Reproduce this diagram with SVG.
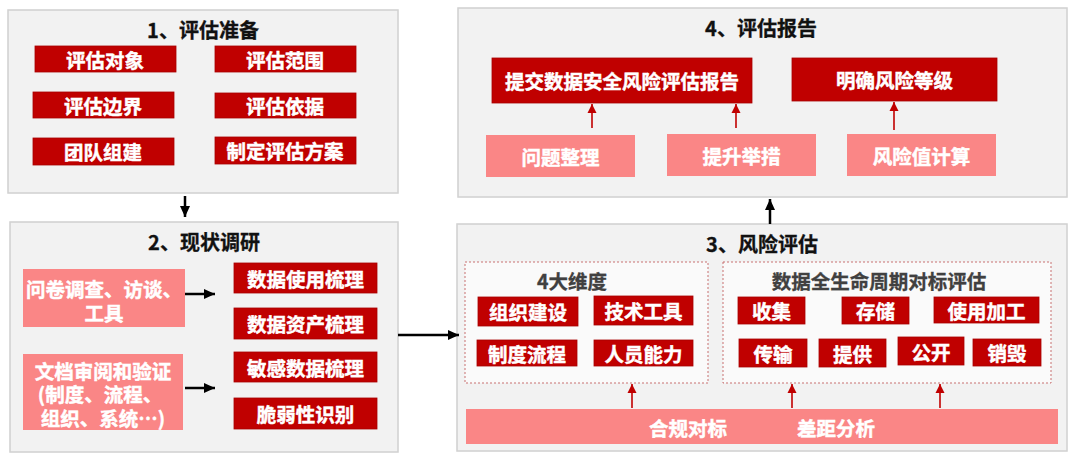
<svg xmlns="http://www.w3.org/2000/svg" width="1080" height="462" viewBox="0 0 1080 462">
<style>
text{font-family:"Noto Sans CJK SC","Liberation Sans",sans-serif;font-weight:bold;text-anchor:middle;dominant-baseline:central}
.panel{fill:#f2f2f2;stroke:#d0d0d0;stroke-width:1.5}
.title{font-size:20px;fill:#111;stroke:#111;stroke-width:0.3}
.sub{font-size:19.5px;fill:#404040;stroke:#404040;stroke-width:0.3}
.dark{fill:#c00000;stroke:#a80000;stroke-width:0.8}
.pink{fill:#fa8686}
.lbl{font-size:19.5px;fill:#fff;stroke:#fff;stroke-width:0.45}
.dash{fill:#fafafa;stroke:#c87070;stroke-width:1;stroke-dasharray:2 2}
.blk{stroke:#000;stroke-width:2.5;fill:none}
.red{stroke:#c00000;stroke-width:1.6;fill:none}
</style>
<defs>
<marker id="ab" markerUnits="userSpaceOnUse" markerWidth="12" markerHeight="12" viewBox="0 0 12 12" refX="11" refY="6" orient="auto"><path d="M0,1 L11,6 L0,11 Z" fill="#000"/></marker>
<marker id="ar" markerUnits="userSpaceOnUse" markerWidth="10" markerHeight="10" viewBox="0 0 10 10" refX="9" refY="5" orient="auto"><path d="M0,0.5 L9,5 L0,9.5 Z" fill="#c00000"/></marker>
</defs>

<g id="panel1">
<rect class="panel" x="8" y="10" width="390" height="183"/>
<text class="title" x="203" y="29">1、评估准备</text>
<g id="p1-n1"><rect class="dark" x="35" y="46" width="141" height="26"/><text class="lbl" x="105" y="59">评估对象</text></g>
<g id="p1-n2"><rect class="dark" x="215" y="46" width="141" height="26"/><text class="lbl" x="285" y="59">评估范围</text></g>
<g id="p1-n3"><rect class="dark" x="33" y="92" width="141" height="26"/><text class="lbl" x="103" y="105">评估边界</text></g>
<g id="p1-n4"><rect class="dark" x="215" y="93" width="141" height="25"/><text class="lbl" x="285" y="105.5">评估依据</text></g>
<g id="p1-n5"><rect class="dark" x="33" y="138" width="141" height="27"/><text class="lbl" x="103" y="151.5">团队组建</text></g>
<g id="p1-n6"><rect class="dark" x="215" y="137" width="141" height="27"/><text class="lbl" x="285" y="150.5">制定评估方案</text></g>
</g>

<g id="panel2">
<rect class="panel" x="10" y="222" width="388" height="230"/>
<text class="title" x="204" y="241">2、现状调研</text>
<g id="p2-src1"><rect class="pink" x="23" y="269" width="162" height="58"/><text class="lbl"><tspan x="104" y="288">问卷调查、访谈、</tspan><tspan x="104" y="312">工具</tspan></text></g>
<g id="p2-src2"><rect class="pink" x="23" y="354" width="160" height="76"/><text class="lbl"><tspan x="103" y="370">文档审阅和验证</tspan><tspan x="100" y="393">(制度、流程、</tspan><tspan x="103" y="417">组织、系统…)</tspan></text></g>
<g id="p2-n1"><rect class="dark" x="234" y="263" width="143" height="30"/><text class="lbl" x="305.5" y="278">数据使用梳理</text></g>
<g id="p2-n2"><rect class="dark" x="234" y="308" width="143" height="31"/><text class="lbl" x="305.5" y="323.5">数据资产梳理</text></g>
<g id="p2-n3"><rect class="dark" x="234" y="352" width="143" height="30"/><text class="lbl" x="305.5" y="367">敏感数据梳理</text></g>
<g id="p2-n4"><rect class="dark" x="234" y="398" width="143" height="31"/><text class="lbl" x="305.5" y="413.5">脆弱性识别</text></g>
</g>

<g id="panel3">
<rect class="panel" x="457" y="224" width="610" height="227"/>
<text class="title" x="762" y="243">3、风险评估</text>
<g id="p3-dim">
<rect class="dash" x="465" y="262" width="243" height="121"/>
<text class="sub" x="572" y="280">4大维度</text>
<g id="p3-d1"><rect class="dark" x="478" y="297" width="100" height="29"/><text class="lbl" x="528" y="311.5">组织建设</text></g>
<g id="p3-d2"><rect class="dark" x="594" y="296" width="99" height="29"/><text class="lbl" x="643.5" y="310.5">技术工具</text></g>
<g id="p3-d3"><rect class="dark" x="477" y="340" width="100" height="26"/><text class="lbl" x="527" y="353">制度流程</text></g>
<g id="p3-d4"><rect class="dark" x="594" y="340" width="99" height="26"/><text class="lbl" x="643.5" y="353">人员能力</text></g>
</g>
<g id="p3-life">
<rect class="dash" x="723" y="262" width="328" height="121"/>
<text class="sub" x="879" y="280">数据全生命周期对标评估</text>
<g id="p3-l1"><rect class="dark" x="738" y="297" width="67" height="27"/><text class="lbl" x="771.5" y="310.5">收集</text></g>
<g id="p3-l2"><rect class="dark" x="842" y="297" width="67" height="27"/><text class="lbl" x="875.5" y="310.5">存储</text></g>
<g id="p3-l3"><rect class="dark" x="934" y="297" width="105" height="26"/><text class="lbl" x="986.5" y="310">使用加工</text></g>
<g id="p3-l4"><rect class="dark" x="739" y="339" width="68" height="28"/><text class="lbl" x="773" y="353">传输</text></g>
<g id="p3-l5"><rect class="dark" x="819" y="339" width="67" height="28"/><text class="lbl" x="852.5" y="353">提供</text></g>
<g id="p3-l6"><rect class="dark" x="898" y="337" width="66" height="28"/><text class="lbl" x="931" y="351">公开</text></g>
<g id="p3-l7"><rect class="dark" x="973" y="339" width="68" height="27"/><text class="lbl" x="1007" y="352.5">销毁</text></g>
</g>
<g id="p3-bar"><rect class="pink" x="466" y="409" width="592" height="35"/><text class="lbl" x="688" y="427">合规对标</text><text class="lbl" x="836" y="427">差距分析</text></g>
</g>

<g id="panel4">
<rect class="panel" x="458" y="8" width="609" height="189"/>
<text class="title" x="761" y="27">4、评估报告</text>
<g id="p4-n1"><rect class="dark" x="492" y="58" width="260" height="45"/><text class="lbl" x="622" y="80.5">提交数据安全风险评估报告</text></g>
<g id="p4-n2"><rect class="dark" x="792" y="58" width="205" height="43"/><text class="lbl" x="894.5" y="79.5">明确风险等级</text></g>
<g id="p4-s1"><rect class="pink" x="486" y="135" width="149" height="42"/><text class="lbl" x="560.5" y="156">问题整理</text></g>
<g id="p4-s2"><rect class="pink" x="667" y="134" width="149" height="42"/><text class="lbl" x="741.5" y="155">提升举措</text></g>
<g id="p4-s3"><rect class="pink" x="847" y="134" width="149" height="42"/><text class="lbl" x="921.5" y="155">风险值计算</text></g>
</g>

<g id="connectors">
<line class="blk" x1="185" y1="196" x2="185" y2="217" marker-end="url(#ab)"/>
<line class="blk" x1="185" y1="294" x2="215" y2="294" marker-end="url(#ab)"/>
<line class="blk" x1="185" y1="388" x2="215" y2="388" marker-end="url(#ab)"/>
<line class="blk" x1="398" y1="335" x2="459" y2="335" marker-end="url(#ab)"/>
<line class="blk" x1="770" y1="224" x2="770" y2="199" marker-end="url(#ab)"/>
<line class="red" x1="632" y1="408" x2="632" y2="384" marker-end="url(#ar)"/>
<line class="red" x1="792" y1="408" x2="792" y2="384" marker-end="url(#ar)"/>
<line class="red" x1="940" y1="408" x2="940" y2="384" marker-end="url(#ar)"/>
<line class="red" x1="592" y1="128" x2="592" y2="104" marker-end="url(#ar)"/>
<line class="red" x1="736" y1="128" x2="736" y2="104" marker-end="url(#ar)"/>
<line class="red" x1="894" y1="130" x2="894" y2="102" marker-end="url(#ar)"/>
</g>
</svg>
